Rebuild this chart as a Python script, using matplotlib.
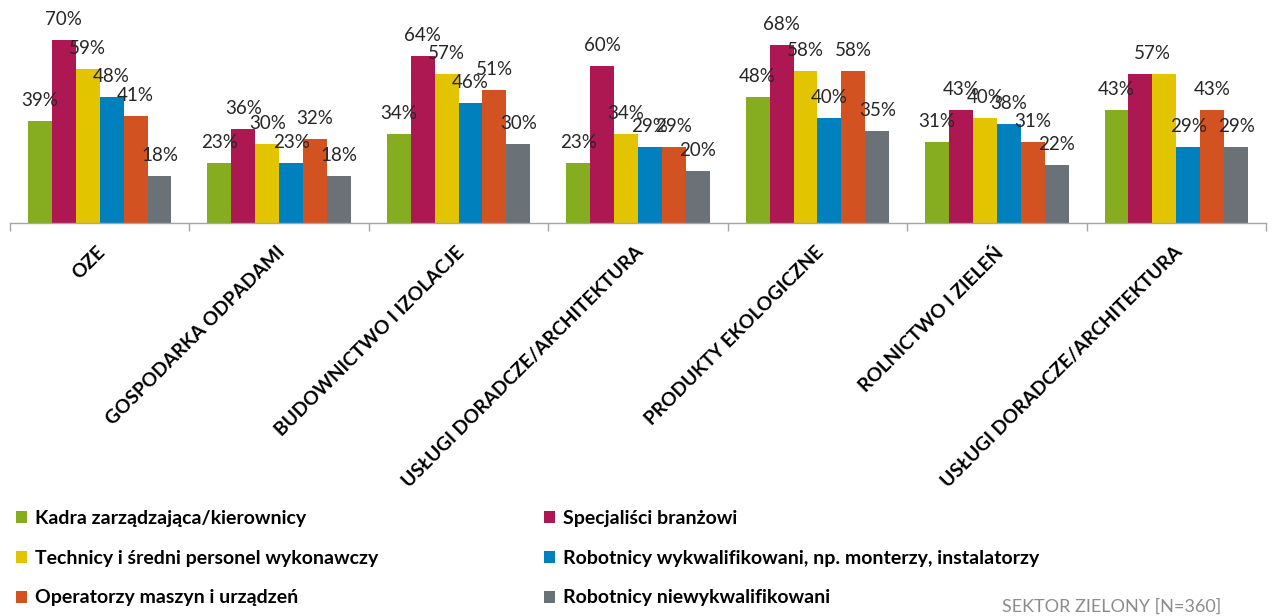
import matplotlib
matplotlib.use("Agg")
import matplotlib.pyplot as plt
import matplotlib.transforms as mtransforms
import numpy as np

plt.rcParams['font.family'] = ['Lato', 'DejaVu Sans']

categories = ['OZE', 'GOSPODARKA ODPADAMI', 'BUDOWNICTWO I IZOLACJE',
              'USŁUGI DORADCZE/ARCHITEKTURA', 'PRODUKTY EKOLOGICZNE',
              'ROLNICTWO I ZIELEŃ', 'USŁUGI DORADCZE/ARCHITEKTURA']

series = ['Kadra zarządzająca/kierownicy',
          'Specjaliści branżowi',
          'Technicy i średni personel wykonawczy',
          'Robotnicy wykwalifikowani, np. monterzy, instalatorzy',
          'Operatorzy maszyn i urządzeń',
          'Robotnicy niewykwalifikowani']

kadra = [39, 23, 34, 23, 48, 31, 43]
specjalisci = [70, 36, 64, 60, 68, 43, 57]
technicy = [59, 30, 57, 34, 58, 40, 57]
robotnicy_wykw = [48, 23, 46, 29, 40, 38, 29]
operatorzy = [41, 32, 51, 29, 58, 31, 43]
robotnicy_niewykw = [18, 18, 30, 20, 35, 22, 29]
values = [kadra, specjalisci, technicy, robotnicy_wykw, operatorzy, robotnicy_niewykw]

colors = ['#86ac1f', '#ad1752', '#e3c400', '#0080bd', '#d35221', '#6a7177']

W, H = 1272, 616
fig = plt.figure(figsize=(W / 100, H / 100), dpi=100)
ax = fig.add_axes([10 / W, (H - 222.7) / H, 1256 / W, 208.8 / H])

x = np.arange(len(categories))
n = len(series)
w = 0.8 / n
handles = []
for i, (name, vals, c) in enumerate(zip(series, values, colors)):
    pos = x - 0.4 + w * (i + 0.5)
    bars = ax.bar(pos, vals, w, color=c, linewidth=0, label=name)
    handles.append(bars)
    for j, (p, v) in enumerate(zip(pos, vals)):
        dx = 0
        # the two 57% bars in the last group share a single label
        if j == 6 and i == 1:
            continue
        if j == 6 and i == 2:
            dx = -w / 2
        ax.annotate(f'{v}%', (p + dx, v), xytext=(0, 10.8), textcoords='offset points',
                    ha='center', va='baseline', fontsize=13.5, color='#262626')

ax.set_xlim(-0.5, len(categories) - 0.5)
ax.set_ylim(0, 80)
ax.set_yticks([])
for s in ['left', 'top', 'right']:
    ax.spines[s].set_visible(False)
ax.spines['bottom'].set_color('#a6a6a6')
ax.spines['bottom'].set_linewidth(1)

ax.set_xticks(x)
ax.set_xticklabels(categories, rotation=45, ha='right', rotation_mode='anchor',
                   fontweight='bold', fontsize=13.8, color='#000000')
ax.set_xticks(np.arange(-0.5, len(categories)), minor=True)
ax.tick_params(axis='x', which='major', length=0, pad=15)
ax.tick_params(axis='x', which='minor', length=6, width=1, color='#a6a6a6')
shift = mtransforms.ScaledTranslation(-3 / 100, 0, fig.dpi_scale_trans)
for lbl in ax.get_xticklabels():
    lbl.set_transform(lbl.get_transform() + shift)

leg_kw = dict(loc='upper left', frameon=False, prop={'weight': 'bold', 'size': 14},
              handlelength=0.58, handleheight=0.58, handletextpad=0.4,
              labelspacing=1.17, borderpad=0, borderaxespad=0)
fig.legend([handles[k] for k in (0, 2, 4)], [series[k] for k in (0, 2, 4)],
           bbox_to_anchor=(16 / W, 1 - 510 / H), **leg_kw)
fig.legend([handles[k] for k in (1, 3, 5)], [series[k] for k in (1, 3, 5)],
           bbox_to_anchor=(544 / W, 1 - 510 / H), **leg_kw)

fig.text(1002 / W, 1 - 607 / H, 'SEKTOR ZIELONY [N=360]', color='#8c8c8c',
         fontsize=13, ha='left', va='center')

fig.savefig('out.png', dpi=100)
